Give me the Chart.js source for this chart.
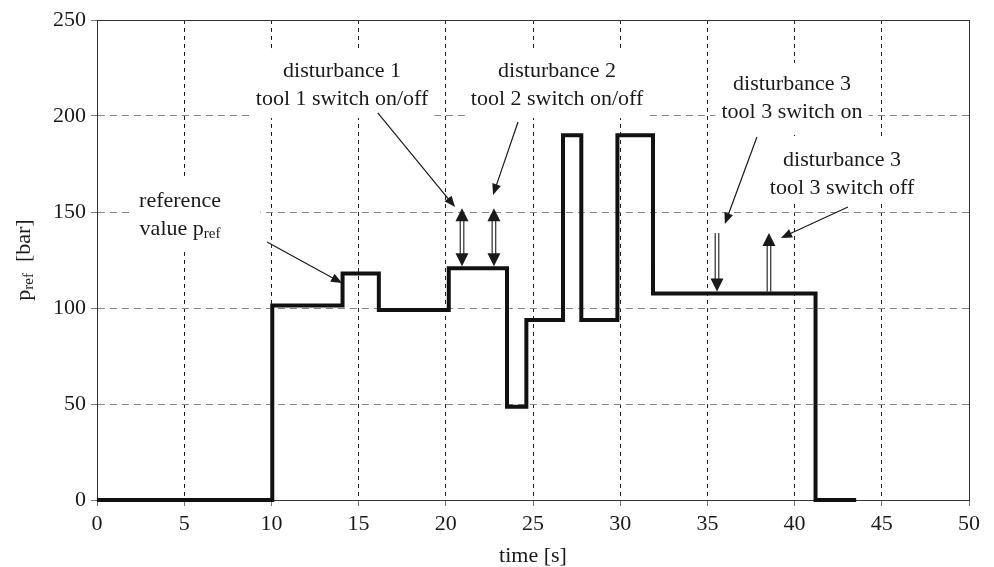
<!DOCTYPE html>
<html>
<head>
<meta charset="utf-8">
<script src="https://cdn.jsdelivr.net/npm/chart.js@4.4.1/dist/chart.umd.min.js"></script>
<style>
  body { margin: 0; background: #fff; }
  #wrap { width: 994px; height: 567px; }
</style>
</head>
<body>
<div id="wrap"><canvas id="prefChart" width="994" height="567"></canvas></div>
<script>
// times [s] where p_ref changes, and the value held from then on [bar]
const stepTimes  = [0, 10.05, 14.08, 16.16, 20.17, 23.51, 24.62, 26.72, 27.77, 29.84, 31.88, 41.2, 43.53];
const stepValues = [0, 101.3, 118, 99, 120.7, 48.6, 93.7, 190, 93.7, 190, 107.6, 0, 0];

const xTicks = [0, 5, 10, 15, 20, 25, 30, 35, 40, 45, 50];
const yTicks = [0, 50, 100, 150, 200, 250];

const FONT = '"Liberation Serif", "Times New Roman", serif';
const FS = 22, SUB = 15;

// text notes, placed in data units (t, p) = centre of the first line
const notes = [
  { lines: ['disturbance 1', 'tool 1 switch on/off'], t: 14.05, p: 223.4, pad: [6, 6, 8, 8] },
  { lines: ['disturbance 2', 'tool 2 switch on/off'], t: 26.38, p: 223.4, pad: [6, 6, 8, 8] },
  { lines: ['disturbance 3', 'tool 3 switch on'], t: 39.85, p: 216.7, pad: [6, 6, 10, 12] },
  { lines: ['disturbance 3', 'tool 3 switch off'], t: 42.72, p: 177.1, pad: [4, 4, 10, 2] },
  { lines: ['reference', 'value p|ref'], t: 4.76, p: 155.7, pad: [4, 36, 12, 12] }
];

// thin pointer lines with a head at the end
const pointers = [
  { from: [16.1, 201.6], to: [20.53, 152.6] },
  { from: [24.14, 196.9], to: [22.71, 158.9] },
  { from: [37.84, 189.1], to: [36.0, 143.75] },
  { from: [43.06, 152.6], to: [39.22, 136.5] },
  { from: [9.75, 134.4], to: [14.05, 113] }
];

// hollow double-line arrows standing on the curve
const bigArrows = [
  { t: 20.93, top: 152, base: 120.7, headTop: true, headBottom: true },
  { t: 22.76, top: 152, base: 120.7, headTop: true, headBottom: true },
  { t: 35.55, top: 139, base: 107.6, headTop: false, headBottom: true },
  { t: 38.53, top: 139, base: 107.6, headTop: true, headBottom: false }
];

function drawRich(ctx, str, cx, y) {
  // "a|b" -> a normal, b subscript
  const parts = str.split('|');
  ctx.font = FS + 'px ' + FONT;
  const w0 = ctx.measureText(parts[0]).width;
  let w1 = 0;
  if (parts[1]) { ctx.font = SUB + 'px ' + FONT; w1 = ctx.measureText(parts[1]).width; }
  let x = cx - (w0 + w1) / 2;
  ctx.textAlign = 'left';
  ctx.textBaseline = 'middle';
  ctx.font = FS + 'px ' + FONT;
  ctx.fillText(parts[0], x, y);
  if (parts[1]) {
    ctx.font = SUB + 'px ' + FONT;
    ctx.fillText(parts[1], x + w0, y + 5);
  }
}

function head(ctx, x1, y1, x2, y2, len, half) {
  const a = Math.atan2(y2 - y1, x2 - x1);
  ctx.beginPath();
  ctx.moveTo(x2, y2);
  ctx.lineTo(x2 - len * Math.cos(a) + half * Math.sin(a), y2 - len * Math.sin(a) - half * Math.cos(a));
  ctx.lineTo(x2 - len * Math.cos(a) - half * Math.sin(a), y2 - len * Math.sin(a) + half * Math.cos(a));
  ctx.closePath();
  ctx.fill();
}

const notesPlugin = {
  id: 'notes',
  beforeDatasetsDraw(chart) {
    const ctx = chart.ctx, xs = chart.scales.x, ys = chart.scales.y;
    ctx.save();
    ctx.fillStyle = '#fff';
    notes.forEach(n => {
      const cx = xs.getPixelForValue(n.t), cy = ys.getPixelForValue(n.p);
      let w = 0;
      ctx.font = FS + 'px ' + FONT;
      n.lines.forEach(l => { w = Math.max(w, ctx.measureText(l.replace('|', '')).width); });
      const h = 28 * (n.lines.length - 1);
      ctx.fillRect(cx - w / 2 - n.pad[0], cy - 11 - n.pad[2], w + n.pad[0] + n.pad[1], h + 22 + n.pad[2] + n.pad[3]);
    });
    ctx.restore();
  },
  afterDatasetsDraw(chart) {
    const ctx = chart.ctx, xs = chart.scales.x, ys = chart.scales.y;
    ctx.save();
    ctx.fillStyle = '#1a1a1a';
    notes.forEach(n => {
      const cx = xs.getPixelForValue(n.t), cy = ys.getPixelForValue(n.p);
      n.lines.forEach((l, i) => drawRich(ctx, l, cx, cy + 28 * i));
    });

    ctx.strokeStyle = '#1a1a1a';
    ctx.lineWidth = 1.2;
    pointers.forEach(p => {
      const x1 = xs.getPixelForValue(p.from[0]), y1 = ys.getPixelForValue(p.from[1]);
      const x2 = xs.getPixelForValue(p.to[0]), y2 = ys.getPixelForValue(p.to[1]);
      const a = Math.atan2(y2 - y1, x2 - x1);
      ctx.beginPath();
      ctx.moveTo(x1, y1);
      ctx.lineTo(x2 - 8 * Math.cos(a), y2 - 8 * Math.sin(a));
      ctx.stroke();
      head(ctx, x1, y1, x2, y2, 11, 4.5);
    });

    bigArrows.forEach(b => {
      const x = xs.getPixelForValue(b.t);
      const top = ys.getPixelForValue(b.top);
      const bot = ys.getPixelForValue(b.base) - 2;
      const hl = 13, hw = 6.5, g = 1.8;
      const s1 = top + (b.headTop ? hl - 1 : 0), s2 = bot - (b.headBottom ? hl - 1 : 0);
      ctx.lineWidth = 1.1;
      ctx.beginPath();
      ctx.moveTo(x - g, s1); ctx.lineTo(x - g, s2);
      ctx.moveTo(x + g, s1); ctx.lineTo(x + g, s2);
      ctx.stroke();
      if (b.headTop) head(ctx, x, top + 20, x, top, hl, hw);
      if (b.headBottom) head(ctx, x, bot - 20, x, bot, hl, hw);
    });
    ctx.restore();
  },
  afterDraw(chart) {
    const ctx = chart.ctx, a = chart.chartArea;
    ctx.save();
    // closing frame on top and right
    ctx.strokeStyle = '#333';
    ctx.lineWidth = 1;
    ctx.beginPath();
    ctx.moveTo(Math.round(a.left) + 0.5, Math.round(a.top) + 0.5);
    ctx.lineTo(Math.round(a.right) + 0.5, Math.round(a.top) + 0.5);
    ctx.lineTo(Math.round(a.right) + 0.5, Math.round(a.bottom) + 0.5);
    ctx.stroke();

    // y axis title with subscript
    ctx.translate(24, (a.top + a.bottom) / 2);
    ctx.rotate(-Math.PI / 2);
    ctx.fillStyle = '#1a1a1a';
    ctx.textBaseline = 'middle';
    ctx.textAlign = 'left';
    ctx.font = FS + 'px ' + FONT;
    const wp = ctx.measureText('p').width;
    const wb = ctx.measureText('  [bar]').width;
    ctx.font = SUB + 'px ' + FONT;
    const wr = ctx.measureText('ref').width;
    const x = -(wp + wr + wb) / 2;
    ctx.font = FS + 'px ' + FONT;
    ctx.fillText('p', x, 0);
    ctx.font = SUB + 'px ' + FONT;
    ctx.fillText('ref', x + wp, 5);
    ctx.font = FS + 'px ' + FONT;
    ctx.fillText('  [bar]', x + wp + wr, 0);
    ctx.restore();
  }
};

Chart.defaults.font.family = FONT;
Chart.defaults.font.size = FS;
Chart.defaults.color = '#1a1a1a';

const prefChart = new Chart(document.getElementById('prefChart'), {
  type: 'line',
  data: {
    datasets: [{
      label: 'p_ref',
      data: stepTimes.map((t, i) => ({ x: t, y: stepValues[i] })),
      stepped: 'before',
      borderColor: '#111',
      borderWidth: 4,
      pointRadius: 0,
      fill: false,
      clip: 6
    }]
  },
  plugins: [notesPlugin],
  options: {
    responsive: false,
    animation: false,
    layout: { padding: { top: 20, right: 25, left: 0, bottom: 0 } },
    plugins: {
      legend: { display: false },
      tooltip: { enabled: false }
    },
    scales: {
      x: {
        type: 'linear',
        min: 0,
        max: 50,
        afterBuildTicks: s => { s.ticks = xTicks.map(v => ({ value: v })); },
        afterFit: s => { s.height = 67; },
        ticks: { padding: 5, maxRotation: 0 },
        grid: { color: '#222', lineWidth: 1, tickLength: 6, tickColor: '#777' },
        border: { color: '#333', width: 1, dash: [4, 4] },
        title: { display: true, text: 'time [s]', font: { size: FS, lineHeight: 1 }, padding: 0 }
      },
      y: {
        min: 0,
        max: 250,
        afterBuildTicks: s => { s.ticks = yTicks.map(v => ({ value: v })); },
        afterFit: s => { s.width = 97; },
        ticks: { padding: 5 },
        grid: { color: '#888', lineWidth: 1, tickLength: 6, tickColor: '#777' },
        border: { color: '#333', width: 1, dash: [7, 5] }
      }
    }
  }
});
</script>
</body>
</html>
